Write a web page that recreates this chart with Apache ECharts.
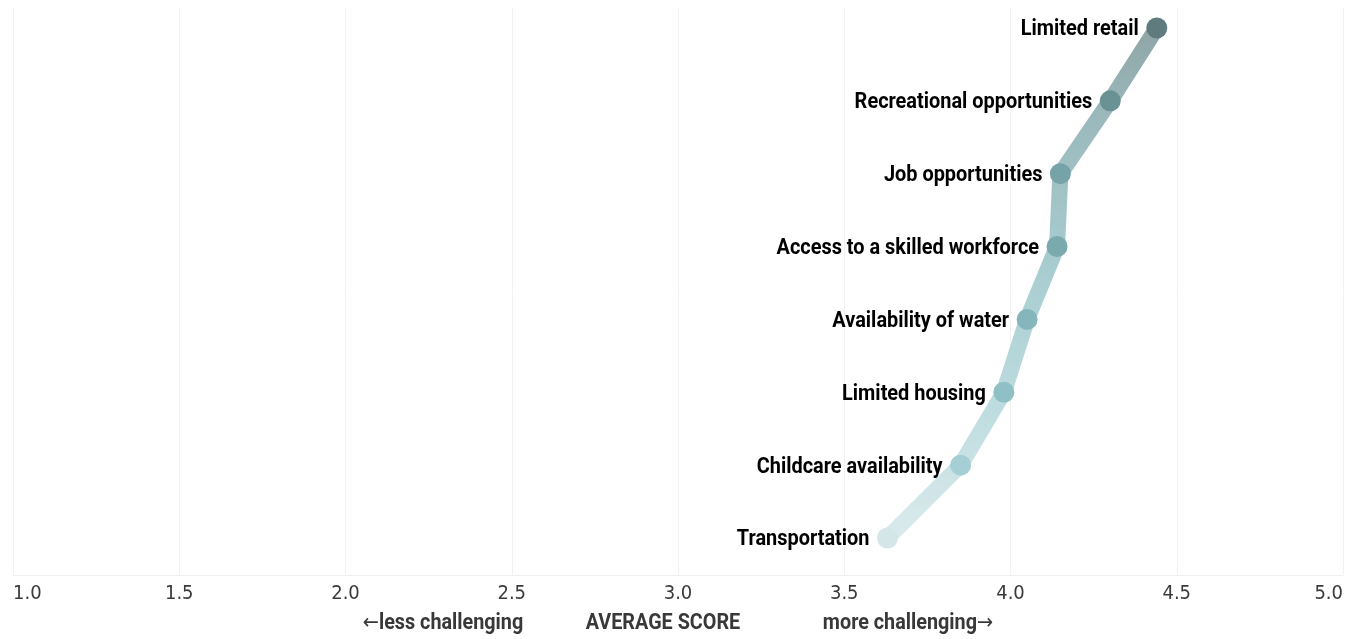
<!DOCTYPE html>
<html>
<head>
<meta charset="utf-8">
<script src="https://cdn.jsdelivr.net/npm/echarts@6/dist/echarts.min.js"></script>
<style>
  html, body { margin: 0; padding: 0; background: #ffffff; }
  #chart { width: 1354px; height: 639px; }
</style>
</head>
<body>
<div id="chart"></div>
<script>
// Challenges, listed bottom to top
const categories = [
  'Transportation',
  'Childcare availability',
  'Limited housing',
  'Availability of water',
  'Access to a skilled workforce',
  'Job opportunities',
  'Recreational opportunities',
  'Limited retail'
];
// Average score per challenge (1 = less, 5 = more challenging)
const scores = [3.63, 3.85, 3.98, 4.05, 4.14, 4.15, 4.30, 4.44];
const xTicks = [1.0, 1.5, 2.0, 2.5, 3.0, 3.5, 4.0, 4.5, 5.0];
const axisTitle = ['{arr|←}less challenging', 'AVERAGE SCORE', 'more challenging{arr|→}'];

// Marker colours, bottom to top
const markerColors = ['#d5e6e9', '#a5cfd4', '#8fc0c5', '#84b6bc', '#7aa9ae', '#75a3a7', '#6a9194', '#607b7e'];
const tickFont = "'DejaVu Sans Condensed', 'Roboto', sans-serif";
const boldFont = "'Roboto', sans-serif";
const narrow = 0.905; // horizontal squeeze for the condensed look of bold text

const chart = echarts.init(document.getElementById('chart'), null, { renderer: 'canvas' });

const points = scores.map((s, i) => [s, i]);

function titleText(text, cx) {
  return {
    type: 'text',
    x: cx,
    y: 624,
    scaleX: 0.92,
    silent: true,
    style: {
      text: text,
      x: 0,
      y: 0,
      align: 'center',
      verticalAlign: 'middle',
      fontFamily: boldFont,
      fontWeight: 'bold',
      fontSize: 21.5,
      fill: '#383838',
      rich: {
        arr: { fontFamily: "'DejaVu Sans', sans-serif", fontWeight: 'normal', fontSize: 21, fill: '#383838' }
      }
    }
  };
}

chart.setOption({
  animation: false,
  grid: { left: 13, right: 11, top: 8, bottom: 64, outerBoundsMode: 'none', containLabel: false },
  xAxis: {
    type: 'value',
    min: xTicks[0],
    max: xTicks[xTicks.length - 1],
    interval: 0.5,
    axisLine: { show: true, onZero: false, lineStyle: { color: '#f0f0f0', width: 1 } },
    axisTick: { show: false },
    splitLine: { show: true, lineStyle: { color: '#f2f2f2', width: 1 } },
    axisLabel: {
      color: '#3a3a3a',
      fontFamily: tickFont,
      fontSize: 20,
      margin: 9,
      alignMinLabel: 'left',
      alignMaxLabel: 'right',
      formatter: v => v.toFixed(1)
    }
  },
  yAxis: {
    type: 'value',
    min: -0.508,
    max: 7.274,
    show: false
  },
  graphic: [
    titleText(axisTitle[0], 443),
    titleText(axisTitle[1], 663),
    titleText(axisTitle[2], 908)
  ],
  series: [{
    type: 'line',
    data: points,
    symbol: 'circle',
    symbolSize: 21,
    smooth: false,
    lineStyle: {
      width: 16,
      cap: 'round',
      join: 'round',
      color: new echarts.graphic.LinearGradient(0, 1, 0, 0, [
        { offset: 0, color: '#dcebed' },
        { offset: 0.25, color: '#bfdde0' },
        { offset: 0.55, color: '#a6cbcf' },
        { offset: 0.8, color: '#9cbabd' },
        { offset: 1, color: '#8ea4a6' }
      ])
    },
    itemStyle: {
      color: p => markerColors[p.dataIndex],
      borderWidth: 0
    },
    label: { show: false },
    emphasis: { disabled: true },
    z: 2
  }, {
    // category names placed just left of each marker
    type: 'custom',
    data: points,
    silent: true,
    z: 3,
    renderItem: (params, api) => {
      const pt = api.coord([api.value(0), api.value(1)]);
      return {
        type: 'text',
        x: pt[0] - 18,
        y: pt[1] + 2,
        scaleX: narrow,
        style: {
          text: categories[params.dataIndex],
          x: 0,
          y: 0,
          align: 'right',
          verticalAlign: 'middle',
          fontFamily: boldFont,
          fontWeight: 'bold',
          fontSize: 22,
          fill: '#000000'
        }
      };
    }
  }]
});
</script>
</body>
</html>
